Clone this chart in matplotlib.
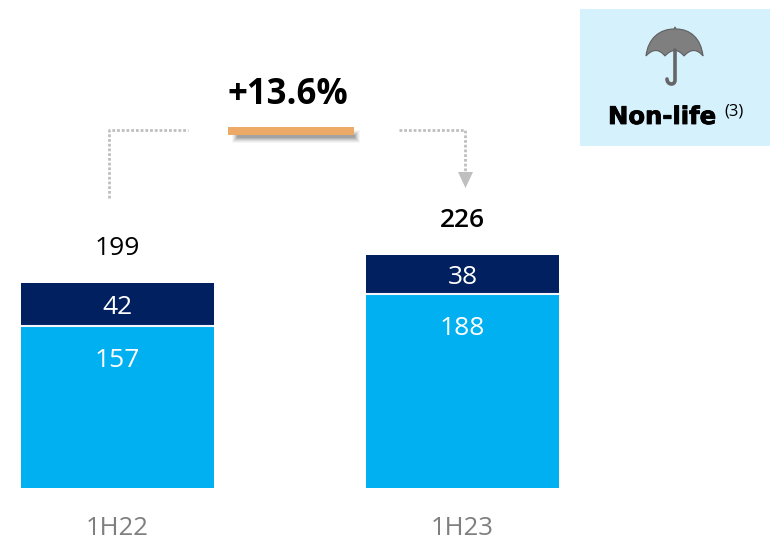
import matplotlib
matplotlib.use("Agg")
import matplotlib.pyplot as plt
import matplotlib.patheffects as pe
from matplotlib.patches import PathPatch, Polygon, Rectangle
from matplotlib.path import Path

# Data
periods = ["1H22", "1H23"]
lower_values = [157, 188]
upper_values = [42, 38]
totals = [199, 226]
growth_label = "+13.6%"
panel_label = "Non-life"
panel_note = "(3)"

NAVY = "#002060"
CYAN = "#00B0F0"
ORANGE = "#EDA966"
DOTS = "#BFBFBF"

plt.rcParams["font.family"] = ["Open Sans", "DejaVu Sans"]

fig = plt.figure(figsize=(7.7, 5.4), dpi=100)

# Bars: axes bottom sits on the bar baseline
ax = fig.add_axes([0, 52 / 540, 1, 488 / 540])
x = [0, 1]
ax.bar(x, lower_values, width=0.559, color=CYAN)
ax.bar(x, upper_values, width=0.559, bottom=lower_values, color=NAVY)
ax.hlines(lower_values, [i - 0.2795 for i in x], [i + 0.2795 for i in x],
          color="#F2F6FA", linewidth=1.5)
ax.set_xlim(-117.5 / 345, 652.5 / 345)
ax.set_ylim(0, 488 / 1.03)
ax.set_xticks(x)
ax.set_xticklabels(periods, fontsize=18.5, color="#7F7F7F")
ax.tick_params(axis="x", length=0, pad=20)
ax.set_yticks([])
for spine in ax.spines.values():
    spine.set_visible(False)

for i in x:
    ax.annotate(str(lower_values[i]), (i, lower_values[i]), xytext=(0, -34),
                textcoords="offset pixels", ha="center", va="center",
                color="white", fontsize=19)
    ax.annotate(str(upper_values[i]), (i, lower_values[i] + upper_values[i] / 2),
                xytext=(0, -3), textcoords="offset pixels",
                ha="center", va="center", color="white", fontsize=19)
    ax.annotate(str(totals[i]), (i, totals[i]), xytext=(0, 35),
                textcoords="offset pixels", ha="center", va="center",
                color="black", fontsize=19,
                fontweight="semibold" if i == 1 else "normal")

# Overlay in pixel coordinates for the callouts and the panel
ov = fig.add_axes([0, 0, 1, 1])
ov.set_xlim(0, 770)
ov.set_ylim(540, 0)
ov.axis("off")
ov.patch.set_alpha(0)

# Growth label with its bar and soft shadow
ov.text(288, 95, growth_label, ha="center", va="center", fontsize=25,
        fontweight="bold", color="black")
for grow, alpha in [(4, 0.04), (3, 0.06), (2, 0.08), (1, 0.1), (0, 0.12), (-1, 0.14)]:
    ov.add_patch(Rectangle((236 - grow, 134 - grow), 120 + 2 * grow, 5 + 2 * grow,
                           color="#303030", alpha=alpha, linewidth=0))
ov.add_patch(Rectangle((228, 127), 126, 8, color=ORANGE, linewidth=0))

# Dotted connectors
ov.plot([109, 109, 188], [198, 130, 130], color=DOTS, linewidth=2,
        linestyle=(0, (1, 0.7)))
ov.plot([399, 465, 465], [130, 130, 173], color=DOTS, linewidth=2,
        linestyle=(0, (1, 0.7)))
ov.add_patch(Polygon([(458, 172), (473, 172), (465.5, 188)], color=DOTS, linewidth=0))

# Panel
ov.add_patch(Rectangle((580, 9), 190, 137, color="#D5F1FC", linewidth=0))
label = ov.text(608, 117, panel_label, ha="left", va="center", fontsize=17.5,
                fontweight="bold", family="DejaVu Sans", color="black")
label.set_path_effects([pe.withStroke(linewidth=0.6, foreground="black")])
ov.text(724, 112, panel_note, ha="left", va="center", fontsize=12, color="black")

# Umbrella icon
canopy = [
    (Path.MOVETO, (646, 56)),
    (Path.CURVE4, (648, 38)), (Path.CURVE4, (660, 29)), (Path.CURVE4, (674, 29)),
    (Path.LINETO, (675, 27)), (Path.LINETO, (676, 29)),
    (Path.CURVE4, (690, 29)), (Path.CURVE4, (701, 38)), (Path.CURVE4, (703, 56)),
    (Path.CURVE3, (694, 45)), (Path.CURVE3, (684, 56)),
    (Path.CURVE3, (675, 45)), (Path.CURVE3, (665, 56)),
    (Path.CURVE3, (656, 45)), (Path.CURVE3, (646, 56)),
    (Path.CLOSEPOLY, (646, 56)),
]
codes, verts = zip(*canopy)
ov.add_patch(PathPatch(Path(verts, codes), facecolor="#7F7F7F", edgecolor="#5F5F5F",
                       linewidth=0.8))
handle = [
    (Path.MOVETO, (675, 50)),
    (Path.LINETO, (675, 80)),
    (Path.CURVE4, (675, 86)), (Path.CURVE4, (667, 85)), (Path.CURVE4, (667, 79)),
]
codes, verts = zip(*handle)
ov.add_patch(PathPatch(Path(verts, codes), facecolor="none", edgecolor="#666666",
                       linewidth=2.6, capstyle="round"))

plt.savefig("out.png", dpi=100)
